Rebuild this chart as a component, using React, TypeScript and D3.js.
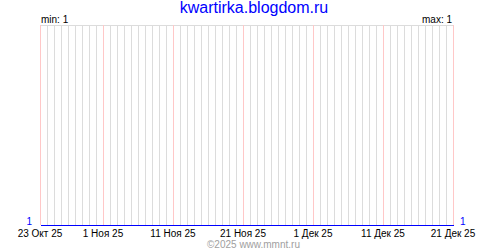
import React from "react";
import * as d3 from "d3";

const TITLE = "kwartirka.blogdom.ru";
const COPYRIGHT = "©2025 www.mmnt.ru";
const START_DATE = "2025-10-23";
const END_DATE = "2025-12-21";
const VALUES: number[] = [
  1, 1, 1, 1, 1, 1, 1, 1, 1, 1,
  1, 1, 1, 1, 1, 1, 1, 1, 1, 1,
  1, 1, 1, 1, 1, 1, 1, 1, 1, 1,
  1, 1, 1, 1, 1, 1, 1, 1, 1, 1,
  1, 1, 1, 1, 1, 1, 1, 1, 1, 1,
  1, 1, 1, 1, 1, 1, 1, 1, 1, 1,
];
const TICK_DATES = ["2025-10-23", "2025-11-01", "2025-11-11", "2025-11-21", "2025-12-01", "2025-12-11", "2025-12-21"];
const TICK_LABELS = ["23 Окт 25", "1 Ноя 25", "11 Ноя 25", "21 Ноя 25", "1 Дек 25", "11 Дек 25", "21 Дек 25"];

const W = 500;
const H = 250;
const M = { left: 40, right: 47, top: 25, bottom: 25 };

const parse = d3.utcParse("%Y-%m-%d");

export default function App() {
  const start = parse(START_DATE)!;
  const end = parse(END_DATE)!;
  const days = d3.utcDay.range(start, d3.utcDay.offset(end, 1));
  const data = days.map((d, i) => ({ date: d, value: VALUES[i] }));

  const x = d3.scaleUtc().domain([start, end]).range([M.left, W - M.right]);
  const minV = d3.min(VALUES)!;
  const maxV = d3.max(VALUES)!;
  const y = d3
    .scaleLinear()
    .domain([minV, maxV === minV ? minV + 1 : maxV])
    .range([H - M.bottom, M.top]);

  const tickSet = new Set(TICK_DATES);
  const line = d3
    .line<{ date: Date; value: number }>()
    .x((d) => Math.round(x(d.date)) + 0.5)
    .y((d) => Math.round(y(d.value)) + 0.5);

  const font = "'Liberation Sans', Arial, sans-serif";

  return (
    <svg
      width={W}
      height={H}
      style={{ position: "absolute", left: 0, top: 0, background: "#fff", display: "block" }}
      fontFamily={font}
    >
      <rect x={0} y={0} width={W} height={H} fill="#fff" />
      <text x={254} y={13} textAnchor="middle" fontSize={16} fill="#0000ff">
        {TITLE}
      </text>
      <text x={41} y={23} fontSize={10} fill="#000">
        {`min: ${minV}`}
      </text>
      <text x={452} y={23} textAnchor="end" fontSize={10} fill="#000">
        {`max: ${maxV}`}
      </text>
      <g shapeRendering="crispEdges">
        <line x1={M.left} x2={W - M.right + 1} y1={M.top + 0.5} y2={M.top + 0.5} stroke="#dcdcdc" />
        {days.map((d, i) => {
          const key = d3.utcFormat("%Y-%m-%d")(d);
          const isTick = tickSet.has(key);
          const xx = Math.round(x(d)) + 0.5;
          return (
            <line
              key={i}
              x1={xx}
              x2={xx}
              y1={M.top}
              y2={H - M.bottom}
              stroke={isTick ? "#ffc8c8" : "#dcdcdc"}
            />
          );
        })}
        <path d={line(data) ?? ""} fill="none" stroke="#0000ff" strokeWidth={1} />
      </g>
      <text x={32} y={225.3} textAnchor="end" fontSize={10} fill="#0000ff">
        {String(VALUES[0])}
      </text>
      <text x={460} y={225.3} textAnchor="start" fontSize={10} fill="#0000ff">
        {String(VALUES[VALUES.length - 1])}
      </text>
      {TICK_DATES.map((t, i) => (
        <text key={t} x={Math.round(x(parse(t)!))} y={236.5} textAnchor="middle" fontSize={10} fill="#000">
          {TICK_LABELS[i]}
        </text>
      ))}
      <text x={207} y={247.7} fontSize={10} fill="#a0a0a0">
        {COPYRIGHT}
      </text>
    </svg>
  );
}
